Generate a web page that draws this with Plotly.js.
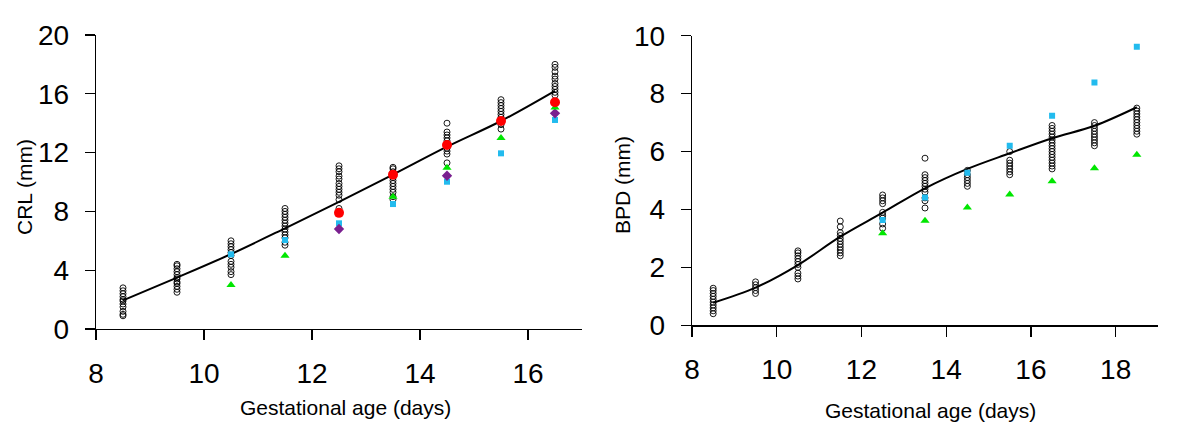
<!DOCTYPE html>
<html>
<head>
<meta charset="utf-8">
<script src="https://cdn.plot.ly/plotly-3.0.1.min.js"></script>
<style>html,body{margin:0;padding:0;background:#fff;}#chart{width:1200px;height:438px;}</style>
</head>
<body>
<div id="chart"></div>
<script>
// ---------- Data: CRL panel ----------
var crlDays = [8.5, 9.5, 10.5, 11.5, 12.5, 13.5, 14.5, 15.5, 16.5];
var crlObs = [
  [0.9, 1.0, 1.2, 1.5, 1.7, 1.9, 2.0, 2.2, 2.4, 2.6, 2.8],
  [2.5, 2.7, 2.9, 3.1, 3.2, 3.4, 3.5, 3.7, 3.9, 4.1, 4.3, 4.4],
  [3.7, 3.9, 4.2, 4.4, 4.6, 5.0, 5.2, 5.4, 5.6, 5.8, 6.0],
  [5.7, 5.9, 6.2, 6.4, 6.6, 6.8, 7.0, 7.2, 7.4, 7.6, 7.8, 8.0, 8.2],
  [8.2, 8.8, 9.1, 9.3, 9.5, 9.7, 9.9, 10.2, 10.4, 10.7, 10.9, 11.1],
  [8.8, 9.0, 9.3, 9.5, 9.7, 9.9, 10.1, 10.3, 10.5, 10.7, 10.9, 11.0],
  [11.3, 11.9, 12.1, 12.3, 12.6, 12.8, 13.0, 13.2, 13.4, 14.0],
  [13.6, 13.9, 14.2, 14.4, 14.6, 14.8, 15.0, 15.2, 15.4, 15.6],
  [15.9, 16.1, 16.3, 16.5, 16.7, 17.0, 17.2, 17.5, 17.8, 18.0]
];
var crlFit = [1.95, 3.5, 5.1, 6.85, 8.65, 10.5, 12.4, 14.15, 16.2];

var crlRedDays = [12.5, 13.5, 14.5, 15.5, 16.5];
var crlRed = [7.9, 10.5, 12.52, 14.15, 15.42];
var crlBlueDays = [10.5, 11.5, 12.5, 13.5, 14.5, 15.5, 16.5];
var crlBlue = [5.08, 6.05, 7.19, 8.5, 10.02, 11.95, 14.22];
var crlGreenDays = [10.5, 11.5, 13.5, 14.5, 15.5, 16.5];
var crlGreen = [2.99, 4.99, 9.0, 10.97, 13.0, 15.06];
var crlPurpleDays = [12.5, 14.5, 16.5];
var crlPurple = [6.8, 10.43, 14.67];

// ---------- Data: BPD panel ----------
var bpdDays = [8.5, 9.5, 10.5, 11.5, 12.5, 13.5, 14.5, 15.5, 16.5, 17.5, 18.5];
var bpdObs = [
  [0.4, 0.5, 0.6, 0.7, 0.8, 0.9, 1.0, 1.1, 1.2, 1.28],
  [1.1, 1.2, 1.3, 1.4, 1.5],
  [1.6, 1.7, 1.8, 2.0, 2.1, 2.2, 2.3, 2.4, 2.5, 2.57],
  [2.4, 2.5, 2.6, 2.7, 2.8, 2.9, 3.0, 3.1, 3.2, 3.4, 3.6],
  [3.35, 3.5, 3.7, 3.8, 3.9, 4.2, 4.3, 4.4, 4.5],
  [4.05, 4.3, 4.4, 4.6, 4.7, 4.8, 4.9, 5.0, 5.1, 5.2, 5.77],
  [4.8, 4.9, 5.0, 5.1, 5.2, 5.35],
  [5.2, 5.3, 5.4, 5.5, 5.6, 5.7, 6.0],
  [5.4, 5.5, 5.6, 5.7, 5.8, 5.9, 6.0, 6.1, 6.2, 6.3, 6.4, 6.5, 6.6, 6.7, 6.8, 6.9],
  [6.2, 6.3, 6.4, 6.5, 6.6, 6.7, 6.8, 6.9, 7.0],
  [6.6, 6.7, 6.8, 6.9, 7.0, 7.1, 7.2, 7.3, 7.4, 7.5]
];
var bpdFit = [0.78, 1.3, 2.08, 3.06, 3.89, 4.73, 5.4, 5.94, 6.46, 6.89, 7.53];

var bpdBlueDays = [12.5, 13.5, 14.5, 15.5, 16.5, 17.5, 18.5];
var bpdBlue = [3.64, 4.41, 5.27, 6.2, 7.24, 8.38, 9.62];
var bpdGreenDays = [12.5, 13.5, 14.5, 15.5, 16.5, 17.5, 18.5];
var bpdGreen = [3.18, 3.61, 4.07, 4.52, 4.97, 5.42, 5.89];

// ---------- Styles ----------
var FONT = 'Liberation Sans, Arial, Helvetica, sans-serif';
var RED = '#ff0000', BLUE = '#22bbee', GREEN = '#00e600', PURPLE = '#7a1f8f';

function flatten(days, obs) {
  var xs = [], ys = [];
  for (var i = 0; i < days.length; i++) {
    for (var j = 0; j < obs[i].length; j++) { xs.push(days[i]); ys.push(obs[i][j]); }
  }
  return {x: xs, y: ys};
}

function circles(days, obs, xa, ya) {
  var f = flatten(days, obs);
  return {x: f.x, y: f.y, xaxis: xa, yaxis: ya, type: 'scatter', mode: 'markers',
    marker: {symbol: 'circle-open', size: 6, color: '#000', line: {width: 0.9, color: '#000'}},
    hoverinfo: 'skip', showlegend: false};
}
function fitLine(days, vals, xa, ya) {
  return {x: days, y: vals, xaxis: xa, yaxis: ya, type: 'scatter', mode: 'lines',
    line: {color: '#000', width: 2, shape: 'spline', smoothing: 1}, showlegend: false, hoverinfo: 'skip'};
}
function pts(days, vals, xa, ya, sym, size, color) {
  return {x: days, y: vals, xaxis: xa, yaxis: ya, type: 'scatter', mode: 'markers',
    marker: {symbol: sym, size: size, color: color, line: {width: 0}}, showlegend: false, hoverinfo: 'skip'};
}

var traces = [
  circles(crlDays, crlObs, 'x', 'y'),
  fitLine(crlDays, crlFit, 'x', 'y'),
  pts(crlBlueDays, crlBlue, 'x', 'y', 'square', 6, BLUE),
  pts(crlPurpleDays, crlPurple, 'x', 'y', 'diamond', 8, PURPLE),
  pts(crlGreenDays, crlGreen, 'x', 'y', 'triangle-up', 8, GREEN),
  pts(crlRedDays, crlRed, 'x', 'y', 'circle', 10, RED),
  circles(bpdDays, bpdObs, 'x2', 'y2'),
  fitLine(bpdDays, bpdFit, 'x2', 'y2'),
  pts(bpdBlueDays, bpdBlue, 'x2', 'y2', 'square', 6, BLUE),
  pts(bpdGreenDays, bpdGreen, 'x2', 'y2', 'triangle-up', 8, GREEN)
];

var W = 1200, H = 438;
function px(v) { return v / W; }
function py(v) { return 1 - v / H; }

var axisCommon = {
  showline: true, linecolor: '#000', linewidth: 1.3,
  ticks: 'outside', ticklen: 10, tickwidth: 1.3, tickcolor: '#000',
  showgrid: false, zeroline: false, fixedrange: true,
  tickfont: {family: FONT, size: 28, color: '#000'}
};
function ax(extra) { return Object.assign({}, axisCommon, extra); }

var layout = {
  width: W, height: H,
  margin: {l: 0, r: 0, t: 0, b: 0},
  paper_bgcolor: '#fff', plot_bgcolor: '#fff',
  showlegend: false,
  xaxis: ax({domain: [px(96), px(582)], range: [8, 17], tickmode: 'linear', tick0: 8, dtick: 2, anchor: 'y', ticklabelstandoff: 9}),
  yaxis: ax({domain: [py(329), py(35)], range: [0, 20], tickmode: 'linear', tick0: 0, dtick: 4, anchor: 'x', ticklabelstandoff: 10}),
  xaxis2: ax({domain: [px(692), px(1158)], range: [8, 19], tickmode: 'linear', tick0: 8, dtick: 2, anchor: 'y2', ticklabelstandoff: 9}),
  yaxis2: ax({domain: [py(325.3), py(35.7)], range: [0, 10], tickmode: 'linear', tick0: 0, dtick: 2, anchor: 'x2', ticklabelstandoff: 10}),
  annotations: [
    {text: 'CRL (mm)', xref: 'paper', yref: 'paper', x: px(24), y: py(187), textangle: -90,
      showarrow: false, xanchor: 'center', yanchor: 'middle', font: {family: FONT, size: 21, color: '#000'}},
    {text: 'BPD (mm)', xref: 'paper', yref: 'paper', x: px(622), y: py(185), textangle: -90,
      showarrow: false, xanchor: 'center', yanchor: 'middle', font: {family: FONT, size: 21, color: '#000'}},
    {text: 'Gestational age (days)', xref: 'paper', yref: 'paper', x: px(345), y: py(407),
      showarrow: false, xanchor: 'center', yanchor: 'middle', font: {family: FONT, size: 21, color: '#000'}},
    {text: 'Gestational age (days)', xref: 'paper', yref: 'paper', x: px(930), y: py(410),
      showarrow: false, xanchor: 'center', yanchor: 'middle', font: {family: FONT, size: 21, color: '#000'}}
  ]
};

Plotly.newPlot('chart', traces, layout, {displayModeBar: false, staticPlot: true});
</script>
</body>
</html>
